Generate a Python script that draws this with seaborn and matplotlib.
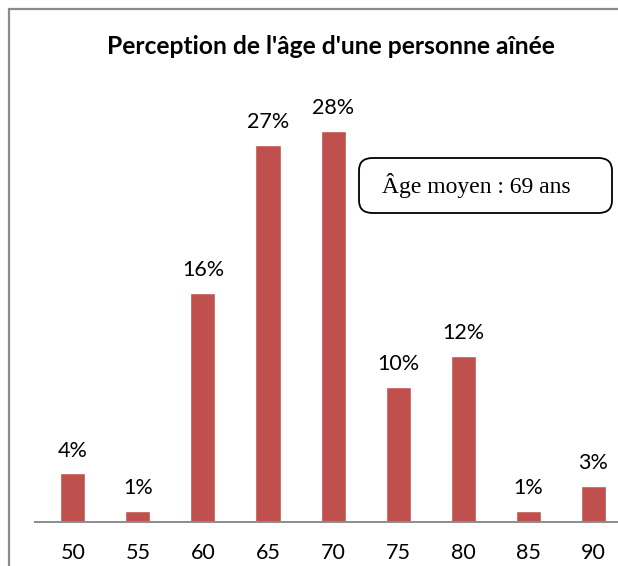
import matplotlib
matplotlib.use("Agg")
import matplotlib.pyplot as plt
import seaborn as sns
import pandas as pd
from matplotlib.patches import Rectangle, FancyBboxPatch

# data
ages = ["50", "55", "60", "65", "70", "75", "80", "85", "90"]
shares = [3.5, 0.8, 16.4, 27.0, 28.0, 9.7, 11.9, 0.8, 2.6]
share_labels = ["4%", "1%", "16%", "27%", "28%", "10%", "12%", "1%", "3%"]
title = "Perception de l'âge d'une personne aînée"
note = "Âge moyen : 69 ans"

sns.set_theme(style="white")
plt.rcParams['font.family'] = ['Lato', 'DejaVu Sans']

W, H = 618, 566
fig = plt.figure(figsize=(W / 100, H / 100), dpi=100)

# chart frame (cropped on right and bottom)
fig.patches.append(Rectangle((9 / W, -0.1), 1.2, 1 - 9 / H + 0.1, transform=fig.transFigure,
                             fill=False, edgecolor="#8c8c8c", linewidth=1.6))

# axes placed in pixel terms; right edge runs past the picture
left, right = 35, 626
bottom, top = 522, 103
ax = fig.add_axes([left / W, 1 - bottom / H, (right - left) / W, (bottom - top) / H])
ax.set_facecolor("none")

df = pd.DataFrame({"age": ages, "share": shares})
sns.barplot(data=df, x="age", y="share", color="#C0504D", saturation=1,
            width=0.385, ax=ax)

for i, (v, lab) in enumerate(zip(shares, share_labels)):
    ax.annotate(lab, (i, v), xytext=(0, 9), textcoords="offset points",
                ha="center", va="bottom", fontsize=15.5, color="black")

ax.set_xlim(-0.58, 8.5)
ax.set_ylim(0, 30)
ax.set_xlabel("")
ax.set_ylabel("")
ax.set_yticks([])
for s in ["left", "right", "top"]:
    ax.spines[s].set_visible(False)
ax.spines["bottom"].set_color("#8c8c8c")
ax.spines["bottom"].set_linewidth(1.4)
ax.tick_params(axis="x", length=0, pad=15, labelsize=15.5, labelcolor="black")

fig.text(331 / W, 1 - 47 / H, title, ha="center", va="center",
         fontsize=17.7, fontweight="bold", color="black")

box = FancyBboxPatch((359 / W, 1 - 213 / H), (612 - 359) / W, (213 - 158) / H,
                     boxstyle="round,pad=0,rounding_size=0.022", transform=fig.transFigure,
                     facecolor="white", edgecolor="black", linewidth=1.3)
fig.patches.append(box)
fig.text(382 / W, 1 - 186 / H, note, ha="left", va="center", fontsize=17,
         family=["Liberation Serif", "DejaVu Serif"], color="black")

fig.savefig("out.png", dpi=100)
